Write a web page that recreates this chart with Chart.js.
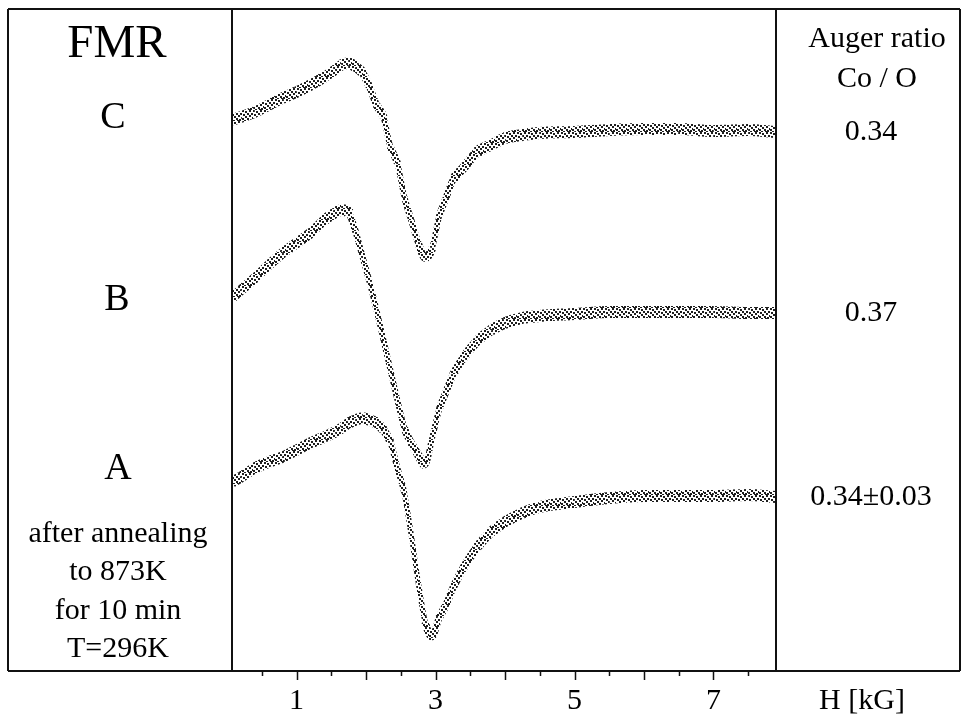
<!DOCTYPE html>
<html>
<head>
<meta charset="utf-8">
<script src="https://cdn.jsdelivr.net/npm/chart.js@4/dist/chart.umd.min.js"></script>
<style>
  html, body { margin: 0; padding: 0; background: #fff; }
  #wrap { width: 964px; height: 715px; }
</style>
</head>
<body>
<div id="wrap"><canvas id="fmrChart" width="964" height="715"></canvas></div>
<script>
// magnetic field H [kG]
const fieldKG = [0.07, 0.2, 0.4, 0.6, 0.8, 1.0, 1.2, 1.4, 1.55, 1.65, 1.75, 1.85, 1.95, 2.05, 2.15, 2.25, 2.35, 2.45, 2.55, 2.65,
                 2.75, 2.85, 2.95, 3.05, 3.15, 3.25, 3.4, 3.6, 3.8, 4.0, 4.25, 4.5, 5.0, 5.5, 6.0, 6.5, 7.0, 7.5, 7.9];

// FMR derivative signal, arb. units, spectra stacked with offsets
const curveA = [18.9, 19.4, 20.3, 20.9, 21.4, 22.1, 22.8, 23.4, 23.9, 24.3, 24.8, 25.1, 25.3, 25.1, 24.8, 24.1, 22.9, 20.3, 17.8, 13.6,
                8.9, 4.9, 3.4, 5.3, 6.6, 8.3, 10.3, 12.4, 13.9, 14.9, 15.8, 16.4, 16.9, 17.3, 17.5, 17.5, 17.5, 17.6, 17.4];
const curveB = [37.3, 38.1, 39.3, 40.6, 41.8, 42.8, 43.8, 45.1, 45.8, 46.1, 45.8, 43.9, 41.4, 38.9, 36.1, 33.1, 30.1, 27.1, 24.3, 22.8,
                21.6, 20.6, 23.3, 26.1, 27.9, 29.6, 31.3, 33.0, 34.1, 34.8, 35.3, 35.5, 35.7, 35.9, 35.9, 35.9, 35.9, 35.8, 35.8];
const curveC = [55.1, 55.4, 55.9, 56.6, 57.3, 57.9, 58.6, 59.4, 60.1, 60.6, 60.8, 60.4, 59.8, 58.4, 56.6, 55.4, 52.4, 50.8, 47.4, 45.1,
                42.8, 41.3, 42.3, 45.4, 47.3, 49.1, 50.3, 51.9, 52.6, 53.3, 53.6, 53.8, 53.9, 54.1, 54.2, 54.2, 54.0, 54.1, 53.9];

const sampleNames = ['A', 'B', 'C'];
const augerRatios = ['0.34\u00b10.03', '0.37', '0.34'];

const minorTicks = [0.5, 1, 1.5, 2, 2.5, 3, 3.5, 4, 4.5, 5, 5.5, 6, 6.5, 7, 7.5];
const tickLabels = [1, 3, 5, 7];

const SERIF = '"Liberation Serif", "DejaVu Serif", serif';

// grainy texture for the scattered data points
function dotPattern() {
  const c = document.createElement('canvas');
  c.width = 11; c.height = 11;
  const g = c.getContext('2d');
  g.fillStyle = '#1e1e1e';
  [[0, 0], [3, 1], [7, 0], [9, 3], [5, 3], [1, 4], [3, 6], [7, 5], [10, 7], [0, 8], [5, 8], [8, 9], [2, 10], [6, 10]]
    .forEach(([x, y]) => g.fillRect(x, y, 2, 2));
  return g.createPattern(c, 'repeat');
}
const dots = dotPattern();

function toPoints(vals) {
  return vals.map((v, i) => ({ x: fieldKG[i], y: v }));
}

// flat parts of the spectrum look like a wide noisy band, steep parts a thin trail
function bandWidth(ctx) {
  const dx = ctx.p1.x - ctx.p0.x, dy = ctx.p1.y - ctx.p0.y;
  const cos = Math.abs(dx) / Math.hypot(dx, dy);
  return 4 + 8 * cos;
}

const spectra = [curveA, curveB, curveC].map((vals, i) => ({
  label: sampleNames[i],
  data: toPoints(vals),
  borderColor: dots,
  borderWidth: 10,
  borderCapStyle: 'butt',
  borderJoinStyle: 'round',
  pointRadius: 0,
  cubicInterpolationMode: 'monotone',
  segment: { borderWidth: bandWidth }
}));

const frame = {
  id: 'frame',
  afterDraw(chart) {
    const { ctx } = chart;
    const xs = chart.scales.x, ys = chart.scales.y;
    const area = chart.chartArea;
    ctx.save();
    ctx.strokeStyle = '#111';
    ctx.lineWidth = 2;

    // side panels and plot frame
    ctx.beginPath();
    ctx.moveTo(8, area.top); ctx.lineTo(960, area.top);
    ctx.moveTo(8, area.bottom); ctx.lineTo(960, area.bottom);
    ctx.moveTo(8, area.top); ctx.lineTo(8, area.bottom);
    ctx.moveTo(area.left, area.top); ctx.lineTo(area.left, area.bottom);
    ctx.moveTo(area.right, area.top); ctx.lineTo(area.right, area.bottom);
    ctx.moveTo(960, area.top); ctx.lineTo(960, area.bottom);
    ctx.stroke();

    // field axis ticks
    ctx.lineWidth = 1.5;
    ctx.beginPath();
    minorTicks.forEach(v => {
      const x = Math.round(xs.getPixelForValue(v)) + 0.5;
      const len = Number.isInteger(v) ? 9 : 5;
      ctx.moveTo(x, area.bottom); ctx.lineTo(x, area.bottom + len);
    });
    ctx.stroke();

    ctx.fillStyle = '#000';
    ctx.textAlign = 'center';
    ctx.textBaseline = 'alphabetic';
    ctx.font = '30px ' + SERIF;
    tickLabels.forEach(v => ctx.fillText(String(v), xs.getPixelForValue(v), 709));
    ctx.fillText('H [kG]', 862, 709);

    // left panel
    ctx.font = '47px ' + SERIF;
    ctx.fillText('FMR', 117, 57);
    ctx.font = '38px ' + SERIF;
    ctx.fillText(sampleNames[2], 113, 128);
    ctx.fillText(sampleNames[1], 117, 310);
    ctx.fillText(sampleNames[0], 118, 479);
    ctx.font = '30px ' + SERIF;
    ['after annealing', 'to 873K', 'for 10 min', 'T=296K'].forEach((t, i) => ctx.fillText(t, 118, 542 + i * 38.3));

    // right panel
    ctx.fillText('Auger ratio', 877, 47);
    ctx.fillText('Co / O', 877, 87);
    ctx.textBaseline = 'middle';
    [curveA, curveB, curveC].forEach((vals, i) => {
      ctx.fillText(augerRatios[i], 871, ys.getPixelForValue(vals[vals.length - 1]) + 0.5);
    });
    ctx.restore();
  }
};

new Chart(document.getElementById('fmrChart'), {
  type: 'line',
  data: { datasets: spectra },
  options: {
    responsive: false,
    animation: false,
    layout: { padding: { left: 232, right: 188, top: 9, bottom: 44 } },
    scales: {
      x: { type: 'linear', min: 0.07, max: 7.9, display: false },
      y: { min: 0, max: 66.2, display: false }
    },
    plugins: {
      legend: { display: false },
      tooltip: { enabled: false }
    }
  },
  plugins: [frame]
});
</script>
</body>
</html>
